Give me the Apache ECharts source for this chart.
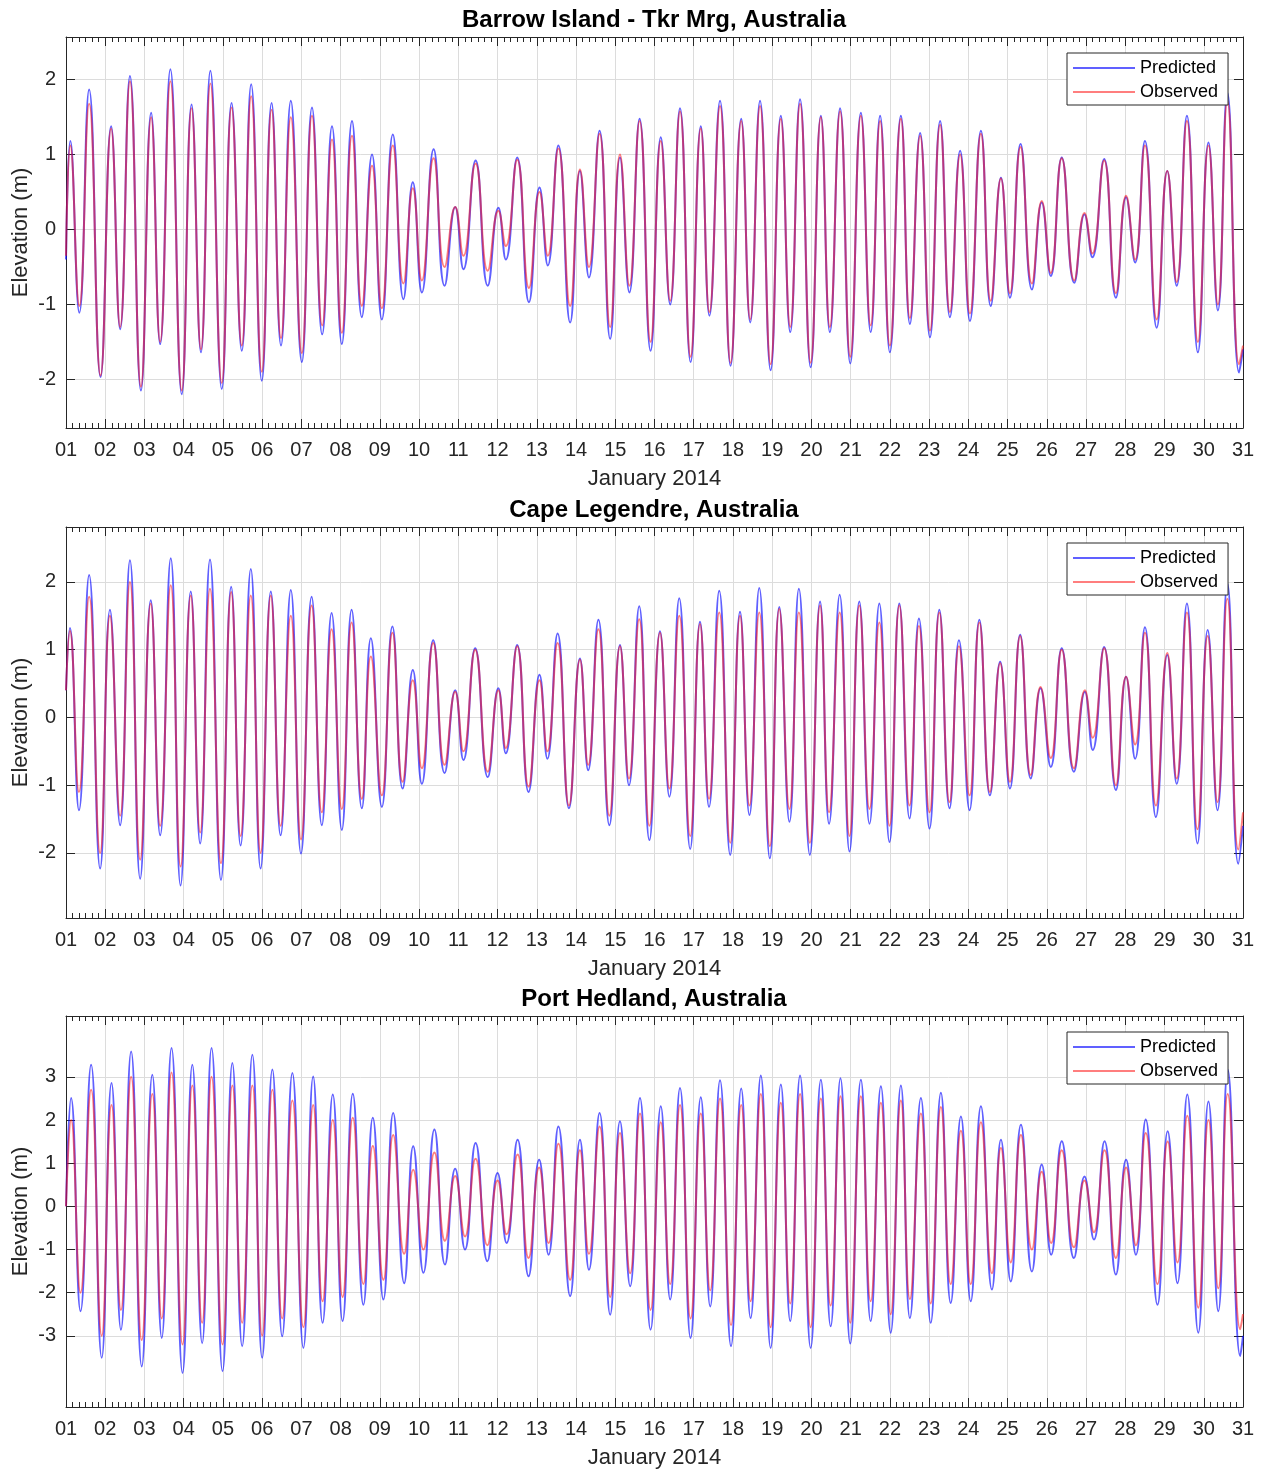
<!DOCTYPE html>
<html><head><meta charset="utf-8">
<script src="https://cdn.jsdelivr.net/npm/echarts@6/dist/echarts.min.js"></script>
<style>html,body{margin:0;padding:0;background:#fff}#chart{width:1263px;height:1475px}</style>
</head><body><div id="chart"></div>
<script>
// ---------- DATA ----------
const dayLabels = ['01','02','03','04','05','06','07','08','09','10','11','12','13','14','15','16',
  '17','18','19','20','21','22','23','24','25','26','27','28','29','30','31'];
const seriesNames = ['Predicted', 'Observed'];
const xAxisTitle = 'January 2014';
const yAxisTitle = 'Elevation (m)';

// Barrow Island - Tkr Mrg: times (days after 01 Jan 00:00) of highs/lows, elevations (m)
const barrowTime = [
  0, 0.11, 0.34, 0.59, 0.88, 1.15, 1.38, 1.63, 1.91, 2.17,
  2.40, 2.66, 2.95, 3.20, 3.44, 3.68, 3.97, 4.22, 4.48, 4.72,
  4.99, 5.24, 5.48, 5.73, 6.01, 6.27, 6.53, 6.78, 7.03, 7.29,
  7.54, 7.80, 8.05, 8.33, 8.60, 8.84, 9.07, 9.37, 9.65, 9.92,
  10.13, 10.44, 10.75, 11.02, 11.21, 11.50, 11.80, 12.07, 12.28, 12.55,
  12.85, 13.10, 13.33, 13.60, 13.87, 14.12, 14.36, 14.62, 14.90, 15.16,
  15.40, 15.65, 15.92, 16.18, 16.40, 16.67, 16.94, 17.21, 17.44, 17.69,
  17.96, 18.22, 18.46, 18.71, 18.98, 19.24, 19.47, 19.73, 19.99, 20.26,
  20.51, 20.75, 21.00, 21.28, 21.51, 21.77, 22.02, 22.28, 22.53, 22.79,
  23.04, 23.32, 23.57, 23.83, 24.06, 24.33, 24.62, 24.87, 25.10, 25.38,
  25.70, 25.96, 26.16, 26.46, 26.76, 27.02, 27.25, 27.50, 27.80, 28.07,
  28.31, 28.57, 28.85, 29.12, 29.36, 29.60, 29.90, 30.00];
const barrowPred = [
  -0.40, 1.18, -1.11, 1.87, -1.97, 1.38, -1.33, 2.05, -2.15, 1.56,
  -1.53, 2.14, -2.20, 1.67, -1.64, 2.12, -2.13, 1.69, -1.62, 1.94,
  -2.02, 1.69, -1.55, 1.72, -1.77, 1.63, -1.40, 1.38, -1.53, 1.45,
  -1.17, 1.00, -1.20, 1.27, -0.93, 0.63, -0.84, 1.07, -0.75, 0.30,
  -0.53, 0.92, -0.75, 0.29, -0.40, 0.96, -0.97, 0.56, -0.48, 1.12,
  -1.24, 0.78, -0.64, 1.32, -1.46, 0.96, -0.84, 1.48, -1.62, 1.23,
  -1.00, 1.62, -1.77, 1.38, -1.15, 1.72, -1.82, 1.48, -1.24, 1.72,
  -1.88, 1.52, -1.37, 1.74, -1.84, 1.52, -1.37, 1.62, -1.79, 1.56,
  -1.37, 1.52, -1.64, 1.52, -1.26, 1.29, -1.44, 1.45, -1.17, 1.05,
  -1.22, 1.32, -1.02, 0.69, -0.91, 1.14, -0.80, 0.36, -0.62, 0.96,
  -0.71, 0.20, -0.37, 0.94, -0.91, 0.43, -0.44, 1.18, -1.31, 0.78,
  -0.75, 1.52, -1.64, 1.16, -1.08, 1.83, -1.91, -1.60];
const barrowObs = [
  -0.35, 1.12, -1.02, 1.68, -1.95, 1.35, -1.30, 1.98, -2.10, 1.50,
  -1.50, 1.98, -2.15, 1.62, -1.60, 1.95, -2.05, 1.63, -1.55, 1.78,
  -1.90, 1.60, -1.45, 1.50, -1.65, 1.52, -1.28, 1.20, -1.38, 1.25,
  -1.02, 0.85, -1.05, 1.12, -0.72, 0.55, -0.68, 0.95, -0.50, 0.30,
  -0.35, 0.88, -0.55, 0.25, -0.22, 0.93, -0.78, 0.50, -0.35, 1.08,
  -1.02, 0.80, -0.50, 1.28, -1.30, 1.00, -0.75, 1.45, -1.50, 1.18,
  -0.95, 1.58, -1.70, 1.35, -1.10, 1.65, -1.78, 1.45, -1.20, 1.65,
  -1.80, 1.48, -1.30, 1.68, -1.78, 1.50, -1.30, 1.58, -1.70, 1.52,
  -1.28, 1.45, -1.55, 1.48, -1.18, 1.25, -1.35, 1.40, -1.10, 1.00,
  -1.12, 1.28, -0.95, 0.68, -0.85, 1.10, -0.72, 0.38, -0.58, 0.95,
  -0.68, 0.22, -0.32, 0.92, -0.85, 0.45, -0.40, 1.12, -1.20, 0.78,
  -0.70, 1.45, -1.50, 1.12, -1.00, 1.72, -1.80, -1.55];
const barrowYTicks = [-2, -1, 0, 1, 2];

// Cape Legendre
const legendreTime = [
  0, 0.10, 0.33, 0.59, 0.87, 1.12, 1.38, 1.63, 1.89, 2.16,
  2.40, 2.67, 2.92, 3.18, 3.42, 3.67, 3.95, 4.21, 4.45, 4.71,
  4.96, 5.22, 5.47, 5.73, 5.99, 6.26, 6.52, 6.77, 7.03, 7.28,
  7.54, 7.77, 8.05, 8.32, 8.58, 8.84, 9.07, 9.36, 9.65, 9.92,
  10.13, 10.43, 10.75, 11.02, 11.21, 11.50, 11.79, 12.07, 12.27, 12.53,
  12.82, 13.10, 13.31, 13.57, 13.85, 14.12, 14.35, 14.61, 14.87, 15.14,
  15.38, 15.63, 15.91, 16.16, 16.39, 16.65, 16.93, 17.18, 17.42, 17.67,
  17.94, 18.18, 18.44, 18.68, 18.96, 19.22, 19.45, 19.72, 19.97, 20.22,
  20.48, 20.73, 20.99, 21.24, 21.50, 21.74, 22.01, 22.26, 22.52, 22.76,
  23.03, 23.28, 23.55, 23.81, 24.06, 24.32, 24.59, 24.84, 25.10, 25.38,
  25.69, 25.97, 26.17, 26.46, 26.76, 27.02, 27.25, 27.50, 27.78, 28.07,
  28.31, 28.57, 28.84, 29.10, 29.35, 29.60, 29.88, 30.00];
const legendrePred = [
  0.40, 1.32, -1.37, 2.10, -2.23, 1.59, -1.59, 2.32, -2.38, 1.73,
  -1.74, 2.35, -2.48, 1.86, -1.86, 2.33, -2.40, 1.93, -1.89, 2.19,
  -2.23, 1.86, -1.74, 1.88, -2.01, 1.78, -1.59, 1.54, -1.66, 1.59,
  -1.34, 1.17, -1.32, 1.34, -1.05, 0.70, -0.98, 1.14, -0.82, 0.40,
  -0.63, 1.02, -0.88, 0.43, -0.53, 1.07, -1.10, 0.63, -0.61, 1.24,
  -1.34, 0.87, -0.78, 1.44, -1.59, 1.07, -1.00, 1.64, -1.81, 1.27,
  -1.17, 1.76, -1.94, 1.41, -1.32, 1.87, -2.03, 1.56, -1.44, 1.91,
  -2.08, 1.63, -1.54, 1.90, -2.03, 1.71, -1.57, 1.81, -1.98, 1.71,
  -1.57, 1.68, -1.84, 1.68, -1.49, 1.46, -1.64, 1.59, -1.34, 1.14,
  -1.37, 1.44, -1.15, 0.82, -1.05, 1.22, -0.90, 0.43, -0.73, 1.02,
  -0.80, 0.38, -0.48, 1.04, -1.07, 0.60, -0.61, 1.33, -1.47, 0.92,
  -0.98, 1.68, -1.86, 1.29, -1.37, 1.98, -2.16, -1.60];
const legendreObs = [
  0.40, 1.28, -1.10, 1.78, -2.00, 1.50, -1.45, 2.00, -2.10, 1.68,
  -1.60, 1.95, -2.20, 1.80, -1.70, 1.90, -2.15, 1.85, -1.75, 1.80,
  -2.00, 1.80, -1.60, 1.50, -1.80, 1.65, -1.40, 1.30, -1.35, 1.40,
  -1.20, 0.90, -1.15, 1.25, -0.95, 0.55, -0.75, 1.10, -0.70, 0.38,
  -0.50, 1.00, -0.80, 0.40, -0.45, 1.05, -1.02, 0.55, -0.50, 1.10,
  -1.30, 0.85, -0.70, 1.30, -1.45, 1.05, -0.90, 1.45, -1.60, 1.25,
  -1.05, 1.50, -1.75, 1.38, -1.20, 1.55, -1.85, 1.50, -1.30, 1.55,
  -1.90, 1.60, -1.35, 1.55, -1.85, 1.65, -1.40, 1.55, -1.75, 1.65,
  -1.35, 1.40, -1.60, 1.65, -1.30, 1.35, -1.40, 1.55, -1.25, 1.05,
  -1.15, 1.40, -1.10, 0.80, -0.95, 1.20, -0.85, 0.45, -0.60, 1.00,
  -0.75, 0.40, -0.30, 1.02, -1.00, 0.60, -0.40, 1.25, -1.30, 0.95,
  -0.90, 1.55, -1.65, 1.20, -1.25, 1.75, -1.95, -1.40];
const legendreYTicks = [-2, -1, 0, 1, 2];

// Port Hedland
const hedlandTime = [
  0, 0.13, 0.37, 0.64, 0.91, 1.16, 1.40, 1.66, 1.93, 2.20,
  2.44, 2.69, 2.97, 3.22, 3.47, 3.71, 3.99, 4.24, 4.49, 4.75,
  5.00, 5.26, 5.51, 5.77, 6.05, 6.30, 6.54, 6.80, 7.05, 7.31,
  7.58, 7.82, 8.09, 8.34, 8.62, 8.85, 9.11, 9.39, 9.66, 9.92,
  10.17, 10.44, 10.74, 11.00, 11.23, 11.51, 11.79, 12.06, 12.30, 12.55,
  12.85, 13.10, 13.33, 13.60, 13.87, 14.12, 14.38, 14.63, 14.90, 15.16,
  15.40, 15.65, 15.92, 16.18, 16.42, 16.67, 16.95, 17.21, 17.45, 17.71,
  17.96, 18.22, 18.46, 18.71, 18.98, 19.24, 19.49, 19.74, 19.99, 20.26,
  20.51, 20.77, 21.02, 21.28, 21.51, 21.79, 22.04, 22.30, 22.55, 22.81,
  23.06, 23.32, 23.60, 23.83, 24.08, 24.34, 24.62, 24.87, 25.11, 25.38,
  25.69, 25.96, 26.20, 26.47, 26.76, 27.02, 27.27, 27.52, 27.82, 28.08,
  28.33, 28.58, 28.86, 29.12, 29.37, 29.61, 29.93, 30.00];
const hedlandPred = [
  0.00, 2.51, -2.43, 3.28, -3.51, 2.86, -2.86, 3.59, -3.71, 3.05,
  -3.05, 3.67, -3.86, 3.28, -3.17, 3.67, -3.82, 3.32, -3.24, 3.51,
  -3.51, 3.17, -3.01, 3.09, -3.28, 3.01, -2.70, 2.59, -2.66, 2.61,
  -2.28, 2.05, -2.16, 2.16, -1.78, 1.39, -1.54, 1.78, -1.35, 0.87,
  -1.00, 1.47, -1.27, 0.77, -0.85, 1.54, -1.62, 1.08, -1.12, 1.85,
  -2.08, 1.54, -1.47, 2.16, -2.51, 1.97, -1.85, 2.51, -2.86, 2.32,
  -2.16, 2.74, -3.05, 2.53, -2.32, 2.92, -3.24, 2.73, -2.59, 3.03,
  -3.28, 2.82, -2.66, 3.03, -3.28, 2.93, -2.78, 2.97, -3.18, 2.93,
  -2.66, 2.78, -2.93, 2.80, -2.59, 2.51, -2.70, 2.63, -2.24, 2.08,
  -2.20, 2.32, -1.93, 1.54, -1.74, 1.89, -1.51, 0.97, -1.12, 1.51,
  -1.20, 0.69, -0.77, 1.51, -1.58, 1.08, -1.12, 2.01, -2.28, 1.74,
  -1.78, 2.59, -2.93, 2.43, -2.43, 3.17, -3.47, -3.00];
const hedlandObs = [
  0.00, 2.00, -2.00, 2.70, -3.00, 2.35, -2.40, 3.00, -3.10, 2.60,
  -2.60, 3.10, -3.20, 2.80, -2.70, 3.00, -3.20, 2.80, -2.70, 2.80,
  -3.00, 2.70, -2.60, 2.45, -2.80, 2.35, -2.20, 2.00, -2.10, 2.05,
  -1.80, 1.40, -1.70, 1.65, -1.10, 0.85, -1.00, 1.25, -0.80, 0.70,
  -0.70, 1.10, -0.90, 0.60, -0.65, 1.20, -1.20, 0.90, -0.85, 1.45,
  -1.70, 1.30, -1.10, 1.85, -2.10, 1.70, -1.55, 2.15, -2.40, 1.95,
  -1.80, 2.35, -2.60, 2.15, -1.95, 2.50, -2.75, 2.35, -2.20, 2.60,
  -2.80, 2.40, -2.25, 2.60, -2.80, 2.50, -2.30, 2.55, -2.70, 2.55,
  -2.20, 2.40, -2.50, 2.45, -2.15, 2.15, -2.25, 2.30, -1.80, 1.75,
  -1.80, 1.95, -1.55, 1.35, -1.30, 1.65, -1.00, 0.80, -0.85, 1.30,
  -0.95, 0.60, -0.60, 1.30, -1.20, 0.90, -0.90, 1.70, -1.80, 1.50,
  -1.30, 2.10, -2.35, 2.00, -1.90, 2.60, -2.85, -2.50];
const hedlandYTicks = [-3, -2, -1, 0, 1, 2, 3];

// ---------- CHART ----------
const FONT = '"Liberation Sans", Arial, Helvetica, sans-serif';
const TXT = '#262626';
const GRIDC = '#dcdcdc';
const BLUE = 'rgba(10,10,255,0.65)';
const RED = 'rgba(255,20,20,0.55)';

const panels = [
  {title: 'Barrow Island - Tkr Mrg, Australia', time: barrowTime, pred: barrowPred, obs: barrowObs,
   ticks: barrowYTicks, yMin: -2.65, yMax: 2.57, top: 37},
  {title: 'Cape Legendre, Australia', time: legendreTime, pred: legendrePred, obs: legendreObs,
   ticks: legendreYTicks, yMin: -2.96, yMax: 2.81, top: 527},
  {title: 'Port Hedland, Australia', time: hedlandTime, pred: hedlandPred, obs: hedlandObs,
   ticks: hedlandYTicks, yMin: -4.65, yMax: 4.41, top: 1016}
];
const PLOT_H = 391;

const option = {
  animation: false,
  backgroundColor: '#fff',
  title: [], grid: [], xAxis: [], yAxis: [], legend: [], series: []
};

panels.forEach((p, i) => {
  option.grid.push({left: 66, right: 20, top: p.top, height: PLOT_H,
    containLabel: false, outerBoundsMode: 'none'});
  option.title.push({
    text: p.title, left: 654, textAlign: 'center', top: p.top - 29, padding: 0,
    textStyle: {fontSize: 24, fontWeight: 'bold', color: '#000', fontFamily: FONT}
  });
  const xCommon = {
    type: 'value', gridIndex: i, min: 0, max: 30, interval: 1,
    axisLine: {show: true, onZero: false, lineStyle: {color: TXT, width: 1}},
    axisTick: {show: true, inside: true, length: 9, lineStyle: {color: TXT, width: 1}},
    minorTick: {show: true, splitNumber: 6, length: 5, lineStyle: {color: TXT, width: 1}}
  };
  option.xAxis.push(Object.assign({}, xCommon, {
    position: 'bottom',
    name: xAxisTitle, nameLocation: 'middle', nameGap: 40,
    nameTextStyle: {fontSize: 22, color: TXT, fontFamily: FONT},
    axisLabel: {show: true, margin: 12, fontSize: 20, color: TXT, fontFamily: FONT,
      formatter: v => dayLabels[Math.round(v)]},
    splitLine: {show: true, lineStyle: {color: GRIDC, width: 1}}
  }));
  option.xAxis.push(Object.assign({}, xCommon, {
    position: 'top', axisLabel: {show: false}, splitLine: {show: false}
  }));
  const yCommon = {
    type: 'value', gridIndex: i, min: p.yMin, max: p.yMax,
    axisLine: {show: true, onZero: false, lineStyle: {color: TXT, width: 1}},
    axisTick: {show: true, inside: true, length: 9, customValues: p.ticks, lineStyle: {color: TXT, width: 1}}
  };
  option.yAxis.push(Object.assign({}, yCommon, {
    position: 'left',
    name: yAxisTitle, nameLocation: 'middle', nameGap: 34, nameMoveOverlap: false,
    nameTextStyle: {fontSize: 22, color: TXT, fontFamily: FONT},
    axisLabel: {show: true, customValues: p.ticks, margin: 10, fontSize: 20, color: TXT, fontFamily: FONT},
    splitLine: {show: true, lineStyle: {color: GRIDC, width: 1}}
  }));
  option.yAxis.push(Object.assign({}, yCommon, {
    position: 'right', axisLabel: {show: false}, splitLine: {show: false}
  }));
  option.legend.push({
    show: true, orient: 'vertical', left: 1067, top: p.top + 16,
    data: seriesNames, icon: 'rect', itemWidth: 62, itemHeight: 2, itemGap: 6,
    padding: [6, 10, 4, 6], backgroundColor: '#fff', borderColor: TXT, borderWidth: 1,
    selectedMode: false,
    textStyle: {fontSize: 18, color: '#000', fontFamily: FONT, lineHeight: 18}
  });
  const mk = (name, vals, color) => ({
    type: 'line', name: name, xAxisIndex: 2 * i, yAxisIndex: 2 * i,
    data: p.time.map((t, k) => [t, vals[k]]),
    symbol: 'none', showSymbol: false, smooth: 0.5, clip: true,
    color: color, lineStyle: {width: 2, color: color}
  });
  option.series.push(mk(seriesNames[0], p.pred, BLUE));
  option.series.push(mk(seriesNames[1], p.obs, RED));
});

const chart = echarts.init(document.getElementById('chart'), null, {renderer: 'canvas'});
chart.setOption(option);
</script>
</body></html>
